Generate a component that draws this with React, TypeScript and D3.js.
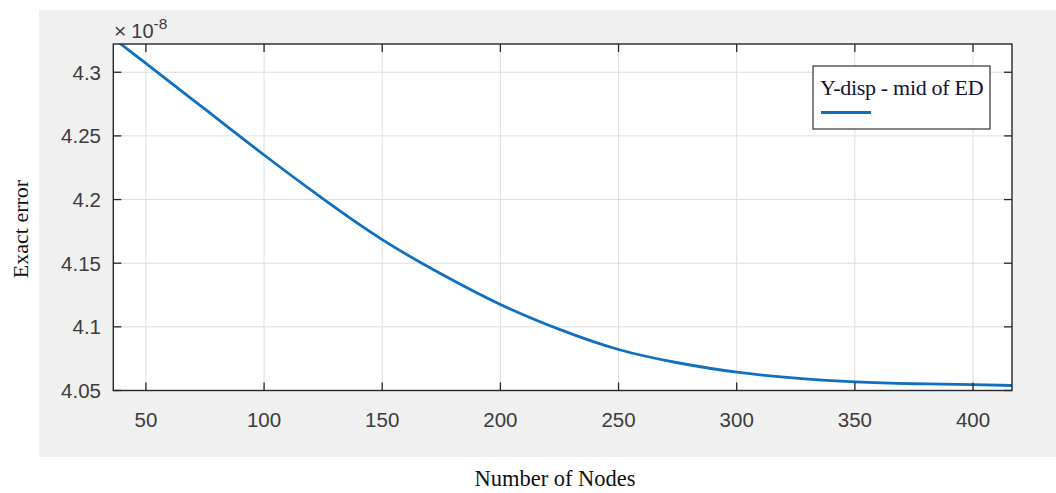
import * as d3 from 'd3'

// Number of nodes vs exact error (values in units of 1e-8)
const nodes = [36, 50, 75, 100, 125, 150, 175, 200, 225, 250, 275, 300, 325, 350, 375, 400, 417]
const exactError = [4.327, 4.307, 4.271, 4.235, 4.2005, 4.1685, 4.1415, 4.1176, 4.098, 4.0822, 4.0718, 4.0644, 4.0597, 4.0567, 4.0553, 4.0546, 4.0539]

const xTicks = [50, 100, 150, 200, 250, 300, 350, 400]
const yTicks = [4.05, 4.1, 4.15, 4.2, 4.25, 4.3]
const yTickLabels = ['4.05', '4.1', '4.15', '4.2', '4.25', '4.3']

const seriesName = 'Y-disp - mid of ED'
const xTitle = 'Number of Nodes'
const yTitle = 'Exact error'

const W = 1056
const H = 493
const plot = { left: 113.3, right: 1012, top: 44, bottom: 390.5 }

const LINE = '#1070c0'
const AXIS = '#262626'
const TICK_TEXT = '#3c3c3c'
const GRID = '#dedede'

export default function App() {
  const x = d3.scaleLinear().domain([36.2, 416.5]).range([plot.left, plot.right])
  const y = d3.scaleLinear().domain([4.05, 4.3222]).range([plot.bottom, plot.top])

  const line = d3.line<number>()
    .x((_, i) => x(nodes[i]))
    .y(d => y(d))
    .curve(d3.curveNatural)

  const tickLen = 8
  const sans = '"Liberation Sans", Arial, sans-serif'
  const serif = '"Liberation Serif", "Times New Roman", serif'

  return (
    <svg width={W} height={H} style={{ position: 'absolute', left: 0, top: 0, background: '#fff' }}>
      <defs>
        <clipPath id="plotClip">
          <rect x={plot.left} y={plot.top} width={plot.right - plot.left} height={plot.bottom - plot.top} />
        </clipPath>
      </defs>

      {/* figure background */}
      <rect x={39} y={10} width={W - 39} height={447} fill="#f0f0f0" />
      <rect x={plot.left} y={plot.top} width={plot.right - plot.left} height={plot.bottom - plot.top} fill="#fff" />

      {/* grid */}
      {xTicks.map(t => (
        <line key={'gx' + t} x1={x(t)} x2={x(t)} y1={plot.top} y2={plot.bottom} stroke={GRID} strokeWidth={1} />
      ))}
      {yTicks.map(t => (
        <line key={'gy' + t} x1={plot.left} x2={plot.right} y1={y(t)} y2={y(t)} stroke={GRID} strokeWidth={1} />
      ))}

      {/* data line */}
      <path d={line(exactError) || ''} fill="none" stroke={LINE} strokeWidth={2.8} clipPath="url(#plotClip)" />

      {/* ticks, inward on all four sides */}
      {xTicks.map(t => (
        <g key={'tx' + t} stroke={AXIS} strokeWidth={1.3}>
          <line x1={x(t)} x2={x(t)} y1={plot.bottom} y2={plot.bottom - tickLen} />
          <line x1={x(t)} x2={x(t)} y1={plot.top} y2={plot.top + tickLen} />
        </g>
      ))}
      {yTicks.map(t => (
        <g key={'ty' + t} stroke={AXIS} strokeWidth={1.3}>
          <line x1={plot.left} x2={plot.left + tickLen} y1={y(t)} y2={y(t)} />
          <line x1={plot.right} x2={plot.right - tickLen} y1={y(t)} y2={y(t)} />
        </g>
      ))}

      {/* axes box */}
      <rect x={plot.left} y={plot.top} width={plot.right - plot.left} height={plot.bottom - plot.top}
        fill="none" stroke={AXIS} strokeWidth={1.4} />

      {/* tick labels */}
      {xTicks.map(t => (
        <text key={'lx' + t} x={x(t)} y={426.5} textAnchor="middle" fontFamily={sans} fontSize={20.5} fill={TICK_TEXT}>
          {t}
        </text>
      ))}
      {yTicks.map((t, i) => (
        <text key={'ly' + t} x={101} y={y(t) + 7.3} textAnchor="end" fontFamily={sans} fontSize={20.5} fill={TICK_TEXT}>
          {yTickLabels[i]}
        </text>
      ))}

      {/* exponent */}
      <text x={114} y={37.5} fontFamily={sans} fill={TICK_TEXT}>
        <tspan fontSize={21} fontWeight={300}>×</tspan>
        <tspan fontSize={20} dx={5}>10</tspan>
        <tspan fontSize={15.5} dy={-9}>-8</tspan>
      </text>

      {/* axis titles */}
      <text x={555} y={486} textAnchor="middle" fontFamily={serif} fontSize={22.5} fill="#111">
        {xTitle}
      </text>
      <text transform="translate(28,229) rotate(-90)" textAnchor="middle" fontFamily={serif} fontSize={22} fill="#111">
        {yTitle}
      </text>

      {/* legend */}
      <rect x={813} y={66} width={177} height={63} fill="#fff" stroke="#333" strokeWidth={1.2} />
      <text x={820} y={95} fontFamily={serif} fontSize={22} fill="#111133" letterSpacing={-0.3}>{seriesName}</text>
      <line x1={821} x2={871} y1={112.5} y2={112.5} stroke={LINE} strokeWidth={2.8} />
    </svg>
  )
}
